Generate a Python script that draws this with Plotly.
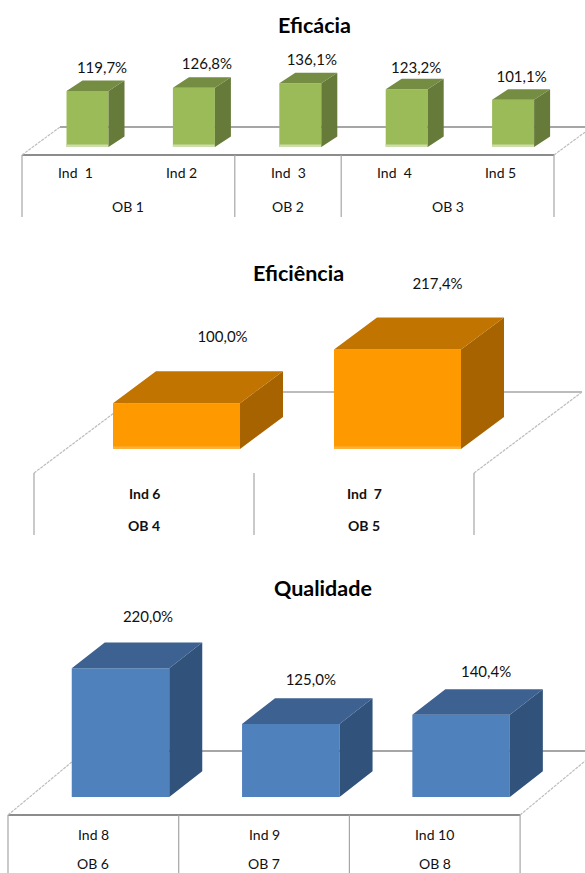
import plotly.graph_objects as go

W, H = 585, 873
FONT = "Lato"

# ---- data ----
eficacia_inds = ["Ind  1", "Ind 2", "Ind  3", "Ind  4", "Ind 5"]
eficacia_obs = ["OB 1", "OB 2", "OB 3"]
eficacia_spans = [2, 1, 2]
eficacia_vals = [119.7, 126.8, 136.1, 123.2, 101.1]

eficiencia_inds = ["Ind 6", "Ind  7"]
eficiencia_obs = ["OB 4", "OB 5"]
eficiencia_spans = [1, 1]
eficiencia_vals = [100.0, 217.4]

qualidade_inds = ["Ind 8", "Ind 9", "Ind 10"]
qualidade_obs = ["OB 6", "OB 7", "OB 8"]
qualidade_spans = [1, 1, 1]
qualidade_vals = [220.0, 125.0, 140.4]

# ---- layout/style of each panel (pixels of the page) ----
panels = [
    dict(title="Eficácia", title_xy=(314, 25), inds=eficacia_inds, obs=eficacia_obs, spans=eficacia_spans,
         vals=eficacia_vals, dom=(0, 240), base=147, scale=0.468, c0=87.5, step=106.4, bw=42, depth=(16, 10.5),
         band=2.5, front="#9BBB59", top="#758C43", side="#667A3A", bandc="#CDDDAC",
         lab_dx=[14.5, 13, 11.5, 9.5, 8.5], lab_dy=[22, 22, 22, 20, 21],
         floor_l=22, floor_y=155, floor_step=106.4, floor_depth=(38, 28), back_r=585, div_bot=217,
         ind_y=173, ob_y=206, front_line=True, bold=False, line_w=2.2),
    dict(title="Eficiência", title_xy=(298, 273), inds=eficiencia_inds, obs=eficiencia_obs, spans=eficiencia_spans,
         vals=eficiencia_vals, dom=(250, 560), base=449, scale=0.4577, c0=176.5, step=221, bw=127, depth=(43, 32),
         band=2.5, front="#FF9900", top="#C27400", side="#A66300", bandc="#FFB13D",
         lab_dx=[46, 40], lab_dy=[65, 64.5],
         floor_l=34, floor_y=473, floor_step=220, floor_depth=(108, 81), back_r=582, div_bot=535,
         ind_y=493, ob_y=525, front_line=False, bold=True, line_w=1.5),
    dict(title="Qualidade", title_xy=(323, 588), inds=qualidade_inds, obs=qualidade_obs, spans=qualidade_spans,
         vals=qualidade_vals, dom=(570, 873), base=797, scale=0.585, c0=120.5, step=170.3, bw=97.5, depth=(33, 25.7),
         band=0, front="#4F81BD", top="#3D6190", side="#31527B", bandc="#4F81BD",
         lab_dx=[27.5, 20, 25], lab_dy=[50, 43, 42],
         floor_l=8, floor_y=815, floor_step=170.7, floor_depth=(77, 64), back_r=585, div_bot=873,
         ind_y=834, ob_y=863.5, front_line=True, bold=False, line_w=2),
]

GRID = "#A6A6A6"
fig = go.Figure()
layout = dict(
    width=W, height=H, autosize=False, margin=dict(l=0, r=0, t=0, b=0),
    paper_bgcolor="white", plot_bgcolor="rgba(0,0,0,0)", showlegend=False, barmode="overlay",
)
shapes, annotations = [], []


def seg(x0, y0, x1, y1, color=GRID, width=1.2, dash=None):
    shapes.append(dict(type="line", xref="paper", yref="paper", layer="below",
                       x0=x0 / W, x1=x1 / W, y0=1 - y0 / H, y1=1 - y1 / H,
                       line=dict(color=color, width=width, dash=dash)))


for k, p in enumerate(panels):
    ax = "" if k == 0 else str(k + 1)
    top_px, bot_px = p["dom"]
    # axes: bar index across the page, value up the panel, zero on the baseline
    layout[f"xaxis{ax}"] = dict(domain=[0, 1], range=[-p["c0"] / p["step"], (W - p["c0"]) / p["step"]],
                                visible=False, fixedrange=True, anchor=f"y{ax}")
    layout[f"yaxis{ax}"] = dict(domain=[1 - bot_px / H, 1 - top_px / H],
                                range=[(p["base"] - bot_px) / p["scale"], (p["base"] - top_px) / p["scale"]],
                                visible=False, fixedrange=True, anchor=f"x{ax}")
    xa, ya = f"x{ax}", f"y{ax}"
    n = len(p["vals"])
    idx = list(range(n))
    hw = p["bw"] / 2 / p["step"]
    ddx = p["depth"][0] / p["step"]
    ddy = p["depth"][1] / p["scale"]

    # front faces
    fig.add_bar(x=idx, y=p["vals"], width=p["bw"] / p["step"], marker=dict(color=p["front"], line_width=0),
                xaxis=xa, yaxis=ya, hoverinfo="skip")
    if p["band"]:
        fig.add_bar(x=idx, y=[p["band"] / p["scale"]] * n, width=p["bw"] / p["step"],
                    marker=dict(color=p["bandc"], line_width=0), xaxis=xa, yaxis=ya, hoverinfo="skip")

    # side and top faces, derived from the values
    sx, sy, tx, ty = [], [], [], []
    for i, v in zip(idx, p["vals"]):
        l, r = i - hw, i + hw
        sx += [r, r, r + ddx, r + ddx, r, None]
        sy += [0, v, v + ddy, ddy, 0, None]
        tx += [l, r, r + ddx, l + ddx, l, None]
        ty += [v, v, v + ddy, v + ddy, v, None]
    fig.add_scatter(x=sx, y=sy, fill="toself", fillcolor=p["side"], mode="lines", line=dict(width=0),
                    xaxis=xa, yaxis=ya, hoverinfo="skip")
    fig.add_scatter(x=tx, y=ty, fill="toself", fillcolor=p["top"], mode="lines", line=dict(width=0),
                    xaxis=xa, yaxis=ya, hoverinfo="skip")

    # value labels
    fig.add_scatter(x=[i + d / p["step"] for i, d in zip(idx, p["lab_dx"])],
                    y=[v + d / p["scale"] for v, d in zip(p["vals"], p["lab_dy"])],
                    text=[f"{v:.1f}%".replace(".", ",") for v in p["vals"]],
                    mode="text", textposition="middle center", cliponaxis=False,
                    textfont=dict(family=FONT, size=15, color="#111111"),
                    xaxis=xa, yaxis=ya, hoverinfo="skip")

    # floor of the 3-D plot
    fl, fy, fs = p["floor_l"], p["floor_y"], p["floor_step"]
    fr = fl + fs * n
    dxp, dyp = p["floor_depth"]
    if p["front_line"]:
        seg(fl, fy, fr, fy, "#8C8C8C", p["line_w"])
    seg(fl + dxp, fy - dyp, p["back_r"], fy - dyp, GRID, p["line_w"])
    seg(fl, fy, fl + dxp, fy - dyp, "#BDBDBD", 1.2, "3px,1px")
    rx = min(fr + dxp, p["back_r"])
    seg(fr, fy, rx, fy - (rx - fr) * dyp / dxp, "#BDBDBD", 1.2, "3px,1px")

    # multi-level category axis
    seg(fl, fy, fl, p["div_bot"])
    pos = 0
    for ob, span in zip(p["obs"], p["spans"]):
        xc = fl + fs * (pos + span / 2)
        pos += span
        seg(fl + fs * pos, fy, fl + fs * pos, p["div_bot"])
        annotations.append(dict(text=f"<b>{ob}</b>" if p["bold"] else ob, x=xc / W, y=1 - p["ob_y"] / H,
                                xref="paper", yref="paper", showarrow=False, xanchor="center", yanchor="middle",
                                borderpad=0, font=dict(family=FONT, size=14, color="#111111")))
    for i, name in enumerate(p["inds"]):
        annotations.append(dict(text=f"<b>{name}</b>" if p["bold"] else name, x=(fl + fs * (i + 0.5)) / W,
                                y=1 - p["ind_y"] / H, xref="paper", yref="paper", showarrow=False,
                                xanchor="center", yanchor="middle",
                                borderpad=0, font=dict(family=FONT, size=14, color="#111111")))
    annotations.append(dict(text=f"<b>{p['title']}</b>", x=p["title_xy"][0] / W, y=1 - p["title_xy"][1] / H,
                            xref="paper", yref="paper", showarrow=False, xanchor="center", yanchor="middle",
                            font=dict(family=FONT, size=21.5, color="#000000")))

layout["shapes"] = shapes
layout["annotations"] = annotations
fig.update_layout(**layout)
fig.write_html("out.html", config=dict(displayModeBar=False),
               post_script="document.body.style.margin='0';document.body.style.overflow='hidden';window.dispatchEvent(new Event('resize'));")
